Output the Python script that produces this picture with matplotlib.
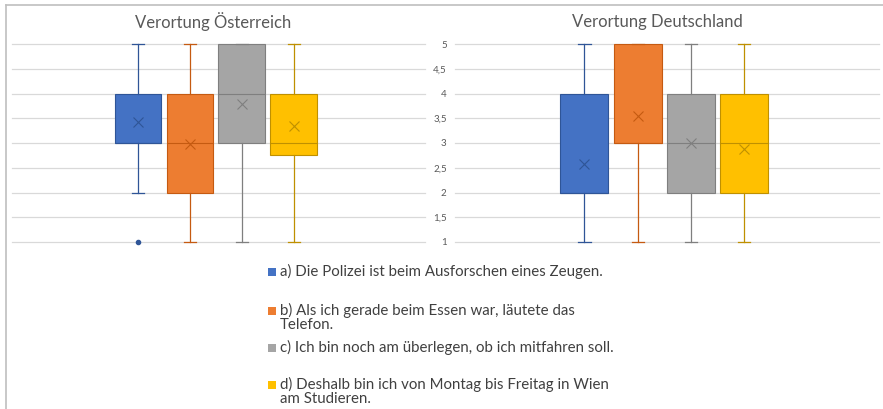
import matplotlib.pyplot as plt
from matplotlib.patches import Rectangle
from matplotlib.lines import Line2D

plt.rcParams['font.family'] = ['Lato', 'DejaVu Sans']

# Five-number summaries + mean, per sentence (a-d)
series_labels = ['a', 'b', 'c', 'd']
colors = ['#4472C4', '#ED7D31', '#A5A5A5', '#FFC000']
edge_colors = ['#2F5597', '#C55A11', '#7F7F7F', '#BF9000']

at_whislo = [2, 1, 1, 1]
at_q1 = [3, 2, 3, 2.75]
at_med = [3, 3, 4, 3]
at_q3 = [4, 4, 5, 4]
at_whishi = [5, 5, 5, 5]
at_mean = [3.43, 2.97, 3.78, 3.35]
at_fliers = [[1], [], [], []]

de_whislo = [1, 1, 1, 1]
de_q1 = [2, 3, 2, 2]
de_med = [2, 3, 3, 3]
de_q3 = [4, 5, 4, 4]
de_whishi = [5, 5, 5, 5]
de_mean = [2.58, 3.55, 3.0, 2.88]
de_fliers = [[], [], [], []]

titles = ['Verortung Österreich', 'Verortung Deutschland']
yticks = [1, 1.5, 2, 2.5, 3, 3.5, 4, 4.5, 5]
ytick_labels = ['1', '1,5', '2', '2,5', '3', '3,5', '4', '4,5', '5']

legend_labels = [
    'a) Die Polizei ist beim Ausforschen eines Zeugen.',
    'b) Als ich gerade beim Essen war, läutete das\nTelefon.',
    'c) Ich bin noch am überlegen, ob ich mitfahren soll.',
    'd) Deshalb bin ich von Montag bis Freitag in Wien\nam Studieren.',
]

W, H = 883, 409
fig = plt.figure(figsize=(W / 100, H / 100), dpi=100)


def make_stats(whislo, q1, med, q3, whishi, mean, fliers):
    return [dict(whislo=whislo[i], q1=q1[i], med=med[i], q3=q3[i],
                 whishi=whishi[i], mean=mean[i], fliers=fliers[i])
            for i in range(len(q1))]


datasets = [
    make_stats(at_whislo, at_q1, at_med, at_q3, at_whishi, at_mean, at_fliers),
    make_stats(de_whislo, de_q1, de_med, de_q3, de_whishi, de_mean, de_fliers),
]

axes_px = [(12, 425), (455, 879)]
title_x = [213, 657]
top_px, bot_px = 44, 242

for k, stats in enumerate(datasets):
    x0, x1 = axes_px[k]
    ax = fig.add_axes([x0 / W, 1 - bot_px / H, (x1 - x0) / W, (bot_px - top_px) / H])
    for i, st in enumerate(stats):
        ax.bxp([st], positions=[i + 1], widths=0.9, showmeans=True,
               patch_artist=True, capwidths=0.23,
               boxprops=dict(facecolor=colors[i], edgecolor=edge_colors[i], linewidth=0.8),
               medianprops=dict(color=edge_colors[i], linewidth=0.8),
               whiskerprops=dict(color=edge_colors[i], linewidth=0.9),
               capprops=dict(color=edge_colors[i], linewidth=0.9),
               meanprops=dict(marker='x', markeredgecolor=edge_colors[i],
                              markersize=7, markeredgewidth=0.8),
               flierprops=dict(marker='o', markerfacecolor=edge_colors[i],
                               markeredgecolor=edge_colors[i], markersize=3))
    for art in ax.get_children():
        try:
            art.set_clip_on(False)
        except AttributeError:
            pass
    ax.set_xlim(-1.43, 6.53)
    ax.set_ylim(1, 5)
    ax.set_yticks(yticks)
    ax.set_xticks([])
    ax.grid(axis='y', color='#D9D9D9', linewidth=0.9)
    for gl in ax.get_ygridlines():
        gl.set_clip_on(False)
    ax.set_axisbelow(True)
    for s in ax.spines.values():
        s.set_visible(False)
    ax.tick_params(axis='y', length=0, labelsize=7, labelcolor='#595959', pad=6)
    if k == 0:
        ax.set_yticklabels([])
    else:
        ax.set_yticklabels(ytick_labels)
    fig.text(title_x[k] / W, 1 - 22 / H, titles[k], ha='center', va='center',
             fontsize=12, color='#595959')

# custom legend
legend_y = [272, 311, 348, 385]
for i, lab in enumerate(legend_labels):
    y = legend_y[i]
    fig.patches.append(Rectangle((268 / W, 1 - (y + 4) / H), 8 / W, 8 / H,
                                 transform=fig.transFigure, facecolor=colors[i],
                                 edgecolor='none'))
    fig.text(280 / W, 1 - (y - 8) / H, lab, ha='left', va='top', fontsize=10.8,
             color='#404040', linespacing=1.0)

# outer frame (only left and top edges visible)
frame_kw = dict(transform=fig.transFigure, color='#BFBFBF', linewidth=1.2)
fig.lines.append(Line2D([5.5 / W, 5.5 / W], [0, 1 - 5 / H], **frame_kw))
fig.lines.append(Line2D([5.5 / W, 1], [1 - 5 / H, 1 - 5 / H], **frame_kw))

fig.savefig('out.png', dpi=100)
